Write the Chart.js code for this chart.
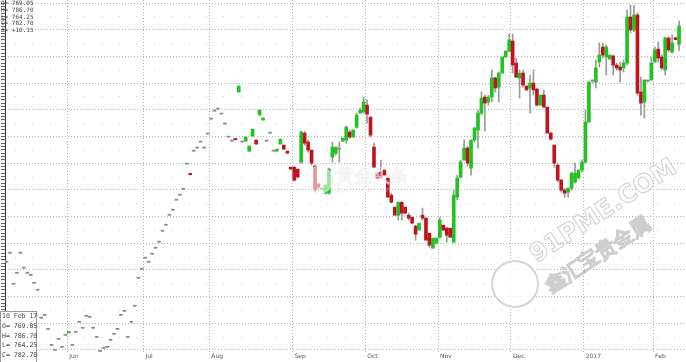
<!DOCTYPE html>
<html>
<head>
<meta charset="utf-8">
<script src="https://cdn.jsdelivr.net/npm/chart.js@4.4.1/dist/chart.umd.min.js"></script>
<style>
  html, body { margin: 0; padding: 0; background: #fff; }
  #box { position: relative; width: 686px; height: 362px; overflow: hidden; }
  #chart { position: absolute; left: 0; top: 0; }
  .txt { position: absolute; font-family: "DejaVu Sans Mono", monospace; color: #444; white-space: pre; }
  #ohlcTop { left: 1px; top: 0px; font-size: 6px; line-height: 6.8px; }
  #ohlcBox { left: 0; top: 311px; width: 34px; height: 55px; background: #fff; border: 1px solid #999;
             font-size: 6.5px; line-height: 9.8px; padding-left: 1px; }
  .wm { position: absolute; white-space: nowrap; font-family: "DejaVu Sans", sans-serif; font-weight: bold;
        color: rgba(255,255,255,0.8); -webkit-text-stroke: 1px rgba(165,165,165,0.55); transform-origin: 0 0; }
  #logo91 { position: absolute; left: 491px; top: 260px; width: 44px; height: 44px; border-radius: 50%;
            background: rgba(255,255,255,0.8); border: 2px solid rgba(185,185,185,0.6); }
  #logoGold { position: absolute; left: 305px; top: 166px; width: 26px; height: 26px; border-radius: 50%;
              background: rgba(255,255,255,0.55); border: 1px solid rgba(230,230,230,0.5); }
</style>
</head>
<body>
<div id="box">
  <canvas id="chart" width="686" height="362"></canvas>
  <div id="logoGold"></div>
  <div class="wm" style="left:336px;top:164px;font-size:18px;color:rgba(255,255,255,0.55);-webkit-text-stroke:0.4px rgba(225,225,225,0.4);">黄金头条</div>
  <div class="wm" style="left:336px;top:186px;font-size:7px;font-weight:normal;color:rgba(225,225,225,0.5);-webkit-text-stroke:0;">goldtoutiao.com</div>
  <div id="logo91"></div>
  <div class="wm" style="left:524px;top:244px;font-size:25px;transform:rotate(-33deg);">91PME.COM</div>
  <div class="wm" style="left:540px;top:276px;font-size:20px;transform:rotate(-33deg);">鑫汇宝贵金属</div>
  <div id="ohlcTop" class="txt">O= 769.05
H= 786.70
L= 764.25
C= 782.70
Δ= +10.15</div>
  <div id="ohlcBox" class="txt">10 Feb 17
O= 769.05
H= 786.70
L= 764.25
C= 782.70</div>
</div>
<script>
// daily candles, one per trading day (mid May 2016 .. 10 Feb 2017)
const opens = [605.8,612.5,589.3,597.5,612.5,601.3,597.5,596.0,590.0,584.8,
  563.8,566.0,555.5,543.5,539.8,548.0,542.0,551.0,552.8,543.5,
  553.3,560.8,556.3,565.3,564.5,556.3,549.5,539.0,541.3,542.0,
  547.3,551.8,555.5,566.0,569.0,549.5,560.8,572.8,593.8,600.5,
  608.8,605.8,611.8,616.3,620.8,629.0,633.5,641.0,644.8,652.3,
  656.0,660.5,679.3,672.3,689.0,691.3,695.8,691.3,701.8,713.0,
  719.0,720.5,716.8,709.3,699.5,696.5,698.5,733.3,695.8,696.5,
  689.0,700.3,697.3,716.0,712.3,696.5,702.5,689.0,689.0,694.3,
  693.5,689.0,677.0,677.0,675.5,680.8,702.5,695.8,689.8,677.8,
  664.3,660.5,657.5,657.5,684.5,687.5,690.5,696.5,697.3,703.3,
  699.5,707.0,717.5,718.3,723.5,714.5,692.0,672.5,673.3,674.8,
  668.8,656.0,647.0,641.0,650.8,647.0,641.0,639.5,632.8,629.8,
  641.0,638.8,627.5,616.3,620.0,624.5,633.5,631.3,631.3,620.8,
  654.5,669.5,682.3,691.3,676.3,697.3,704.8,717.5,729.5,725.8,
  729.5,743.8,737.0,747.5,759.5,764.0,771.5,755.0,743.8,747.5,
  737.8,736.3,740.0,735.5,723.5,731.0,722.0,702.5,693.5,678.5,
  667.3,659.8,658.3,661.3,665.8,668.8,674.8,680.8,710.8,741.5,
  740.8,755.8,767.0,759.5,758.0,760.3,753.5,752.0,751.3,755.0,
  789.5,779.8,791.0,733.3,725.8,741.5,742.3,755.8,765.5,759.5,
  749.8,773.8,763.3,774.0,769.05];
const highs = [605.8,612.5,589.3,597.5,612.5,601.3,597.5,596.0,590.0,584.8,
  563.8,566.0,555.5,543.5,539.8,548.0,542.0,551.0,553.8,543.5,
  553.3,560.8,556.3,565.3,564.5,556.3,549.5,539.0,541.3,542.0,
  547.3,551.8,555.5,566.0,569.0,549.5,560.8,572.8,593.8,600.5,
  608.8,605.8,611.8,616.3,620.8,629.0,633.5,641.0,644.8,652.3,
  656.0,660.5,679.3,672.3,689.0,691.3,695.8,691.3,701.8,713.0,
  719.0,720.5,716.8,709.3,699.5,696.5,698.5,737.8,695.8,699.5,
  692.8,705.5,697.3,719.8,713.8,696.5,702.5,689.0,690.5,698.0,
  693.5,689.0,677.0,677.8,675.5,704.0,704.0,697.3,689.8,678.5,
  665.0,661.3,664.3,676.3,695.8,692.0,695.8,698.8,707.8,704.8,
  704.8,717.5,721.3,729.5,727.3,714.5,695.0,672.5,682.3,674.8,
  668.8,657.5,647.0,650.8,650.8,647.0,642.5,639.5,633.5,635.0,
  646.3,639.5,627.5,623.8,623.8,639.5,633.5,632.0,631.3,659.8,
  671.0,682.3,697.3,692.8,697.3,707.0,719.8,733.3,731.0,731.0,
  749.8,744.5,748.3,759.5,764.0,776.8,776.8,758.8,749.8,749.8,
  737.8,746.0,749.8,736.3,731.0,734.8,722.0,703.3,693.5,680.0,
  668.0,661.3,661.3,673.3,680.0,674.8,682.3,719.8,740.8,742.3,
  757.3,770.0,770.0,768.5,761.0,761.0,755.0,755.8,757.3,794.8,
  798.5,798.5,792.5,744.5,742.3,742.3,759.5,767.0,770.8,761.0,
  774.5,774.5,776.0,774.0,786.70];
const lows = [605.8,612.5,589.3,597.5,612.5,601.3,597.5,596.0,590.0,584.8,
  563.8,566.0,555.5,543.5,539.8,548.0,542.0,551.0,552.8,543.5,
  553.3,560.8,556.3,565.3,564.5,556.3,549.5,539.0,541.3,542.0,
  547.3,551.8,555.5,566.0,569.0,549.5,560.8,572.8,593.8,600.5,
  608.8,605.8,611.8,616.3,620.8,629.0,633.5,641.0,644.8,652.3,
  656.0,660.5,679.3,671.3,689.0,691.3,695.8,691.3,701.8,713.0,
  719.0,720.5,716.8,709.3,699.5,696.5,697.5,733.3,695.8,696.5,
  689.0,700.3,694.3,716.0,712.3,696.5,702.5,689.0,689.0,694.3,
  690.5,687.5,675.5,666.5,669.5,680.0,693.5,688.3,678.5,658.3,
  659.8,660.5,656.8,656.8,680.8,686.0,680.8,696.5,695.0,698.8,
  699.5,706.3,717.5,717.5,710.0,699.5,677.0,668.8,668.8,671.0,
  654.5,650.0,641.0,637.3,637.3,642.5,637.3,635.0,622.3,629.8,
  637.3,622.3,617.0,616.3,620.0,623.8,629.8,620.8,624.5,620.8,
  652.3,668.8,682.3,677.8,671.0,695.8,691.3,716.0,704.0,723.5,
  725.8,733.3,725.8,747.5,759.5,763.3,747.5,743.8,728.8,737.0,
  734.8,717.5,731.0,722.8,723.5,722.0,702.5,697.3,677.0,665.8,
  658.3,654.5,654.5,659.8,665.0,668.8,673.3,680.0,710.8,740.0,
  736.3,752.0,758.8,746.0,758.0,746.0,749.8,740.8,748.3,753.5,
  777.5,778.3,731.0,716.0,713.8,740.8,742.3,755.8,755.8,749.8,
  746.0,763.3,762.5,772.55,764.25];
const closes = [605.8,612.5,589.3,597.5,612.5,601.3,597.5,596.0,590.0,584.8,
  563.8,566.0,555.5,543.5,539.8,548.0,542.0,551.0,553.8,543.5,
  553.3,560.8,556.3,565.3,564.5,556.3,549.5,539.0,541.3,542.0,
  547.3,551.8,555.5,566.0,569.0,549.5,560.8,572.8,593.8,600.5,
  608.8,605.8,611.8,616.3,620.8,629.0,633.5,641.0,644.8,652.3,
  656.0,660.5,679.3,671.3,689.0,691.3,695.8,691.3,701.8,713.0,
  719.0,720.5,716.8,709.3,699.5,696.5,697.5,737.8,695.8,699.5,
  692.8,705.5,694.3,719.8,713.8,696.5,702.5,689.0,690.5,698.0,
  690.5,687.5,675.5,667.3,669.5,703.3,695.0,689.8,680.0,659.8,
  662.0,661.3,663.5,675.5,692.0,692.0,690.5,698.8,707.0,699.5,
  704.8,716.0,719.8,725.8,716.8,701.0,677.0,668.8,669.5,671.0,
  654.5,650.8,641.0,650.8,642.5,642.5,638.8,635.0,626.8,635.0,
  638.8,622.3,618.5,623.8,623.8,637.3,629.8,626.0,624.5,656.0,
  668.8,680.8,691.3,680.0,697.3,706.3,717.5,728.8,725.0,729.5,
  743.8,736.3,747.5,759.5,764.0,772.3,753.5,744.5,747.5,738.5,
  734.8,740.0,734.8,723.5,731.0,722.0,702.5,698.0,680.0,667.3,
  659.8,657.5,661.3,672.5,672.5,674.8,680.8,710.8,740.8,741.5,
  751.3,761.0,761.0,767.0,761.0,753.5,751.3,749.8,755.0,789.5,
  779.8,791.0,732.5,725.0,742.3,741.5,755.0,764.8,758.8,751.3,
  773.8,764.8,770.0,772.55,782.70];

// month boundaries, in candle positions, and their labels
const monthStarts = [17.5, 39.5, 58.5, 82.5, 103.5, 124.5, 145.5, 166.5, 186.5];
const monthLabels = ['Jun', 'Jul', 'Aug', 'Sep', 'Oct', 'Nov', 'Dec', '2017', 'Feb'];

const UP = '#22c222', DOWN = '#c0141c', FLAT = '#8a8a8a', WICK = '#9a9a9a';
const yMin = 538.5, yMax = 802.25;

const days = opens.map((_, i) => i);
const bodyColors = days.map(i => closes[i] > opens[i] ? UP : (closes[i] < opens[i] ? DOWN : FLAT));

const range = (a, b, step) => { const out = []; for (let v = a; v <= b + 1e-9; v += step) out.push({ value: v }); return out; };

// faint dot grid: weekly columns x half grid rows
const dotGrid = {
  id: 'dotGrid',
  beforeDatasetsDraw(chart) {
    const { ctx, scales: { x, y } } = chart;
    ctx.save();
    ctx.fillStyle = '#d6d6d6';
    for (let i = 2.5; i < x.max; i += 5) {
      const px = Math.round(x.getPixelForValue(i));
      for (let v = 550; v < yMax; v += 20) {
        ctx.fillRect(px, Math.round(y.getPixelForValue(v)), 1, 1);
      }
    }
    ctx.restore();
  }
};

new Chart(document.getElementById('chart'), {
  type: 'bar',
  data: {
    datasets: [
      {
        label: 'body',
        data: days.map(i => ({ x: i, y: [opens[i], closes[i]] })),
        backgroundColor: bodyColors,
        barThickness: 3,
        minBarLength: 1,
        grouped: false,
        order: 0
      },
      {
        label: 'wick',
        data: days.map(i => ({ x: i, y: [lows[i], highs[i]] })),
        backgroundColor: WICK,
        barThickness: 1,
        grouped: false,
        order: 1
      }
    ]
  },
  options: {
    responsive: false,
    animation: false,
    events: [],
    layout: { padding: 0 },
    plugins: { legend: { display: false }, tooltip: { enabled: false } },
    scales: {
      x: {
        type: 'linear',
        offset: false,
        min: -0.43,
        max: 196,
        afterBuildTicks: s => { s.ticks = monthStarts.map(v => ({ value: v })); },
        afterFit: s => { s.height = 10; },
        ticks: {
          autoSkip: false, maxRotation: 0, align: 'start', labelOffset: 2, padding: 1,
          font: { family: 'DejaVu Sans', size: 6 }, color: '#555',
          callback: (v, i) => monthLabels[i]
        },
        grid: { offset: false, color: '#b5b5b5', lineWidth: 1, drawTicks: false },
        border: { display: false, dash: [1, 2] }
      },
      y: {
        position: 'left',
        min: yMin, max: yMax,
        afterBuildTicks: s => { s.ticks = range(540, 800, 2.5); },
        afterFit: s => { s.width = 5; },
        ticks: { display: false },
        grid: { drawOnChartArea: false, drawTicks: true, tickLength: 4, color: '#666' },
        border: { display: true, color: '#333', width: 1 }
      },
      yg: {
        position: 'right',
        min: yMin, max: yMax,
        afterBuildTicks: s => { s.ticks = range(540, 800, 20); },
        afterFit: s => { s.width = 0; },
        ticks: { display: false },
        grid: { color: '#b5b5b5', lineWidth: 1, drawTicks: false },
        border: { display: false, dash: [1, 2] }
      }
    }
  },
  plugins: [dotGrid]
});
</script>
</body>
</html>
